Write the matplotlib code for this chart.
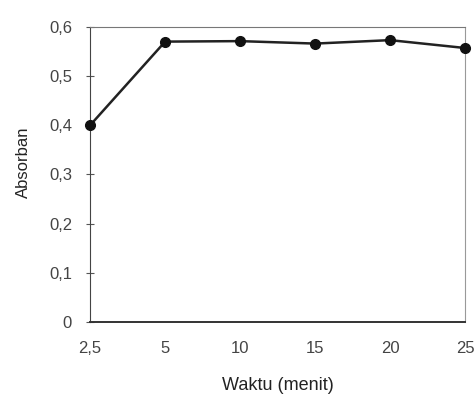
import matplotlib

matplotlib.use("Agg")
import matplotlib.pyplot as plt
import numpy as np

plt.rcParams["font.family"] = ["Liberation Sans", "DejaVu Sans"]

# data
waktu = ["2,5", "5", "10", "15", "20", "25"]
absorban = [0.400, 0.570, 0.571, 0.566, 0.573, 0.557]
yticks = [0, 0.1, 0.2, 0.3, 0.4, 0.5, 0.6]
ylabels = ["0", "0,1", "0,2", "0,3", "0,4", "0,5", "0,6"]

fig = plt.figure(figsize=(4.77, 3.95), dpi=100)
ax = fig.add_axes([0.189, 0.185, 0.786, 0.747])

x = np.arange(len(waktu))
ax.plot(x, absorban, color="#222222", lw=1.8, marker="o", ms=7,
        mfc="#111111", mec="#111111", clip_on=False, zorder=3)

ax.set_xlim(0, len(waktu) - 1)
ax.set_ylim(0, 0.6)
ax.set_xticks(x)
ax.set_xticklabels(waktu, fontsize=12, color="#444444")
ax.set_yticks(yticks)
ax.set_yticklabels(ylabels, fontsize=12, color="#444444")
ax.tick_params(axis="x", length=0, pad=14)
ax.tick_params(axis="y", direction="inout", length=6, width=0.8, pad=10, color="#555555")

ax.spines["left"].set_color("#444444")
ax.spines["bottom"].set_color("#333333")
ax.spines["bottom"].set_linewidth(1.4)
ax.spines["top"].set_color("#777777")
ax.spines["right"].set_color("#999999")
ax.spines["right"].set_linestyle((0, (3, 1)))

ax.set_ylabel("Absorban", fontsize=12, color="#222222")
ax.yaxis.set_label_coords(-0.157, 0.542)
ax.set_xlabel("Waktu (menit)", fontsize=13, color="#222222")
ax.xaxis.set_label_coords(0.5, -0.185)

fig.savefig("out.png", dpi=100)
